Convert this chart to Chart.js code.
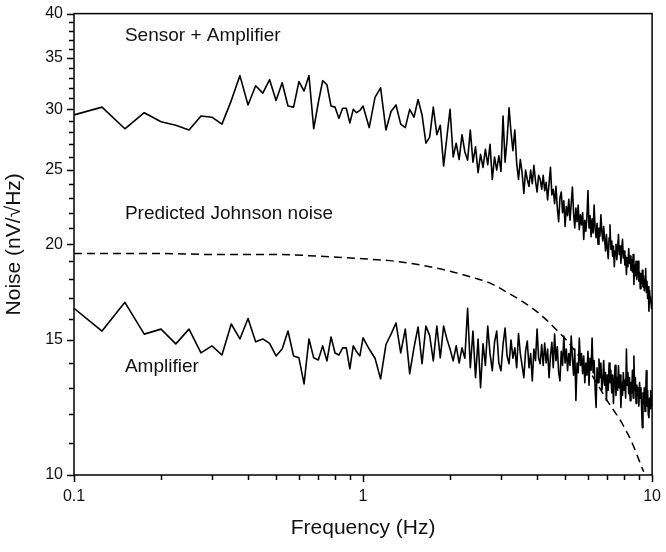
<!DOCTYPE html>
<html>
<head>
<meta charset="utf-8">
<script src="https://cdn.jsdelivr.net/npm/chart.js@4.4.0/dist/chart.umd.min.js"></script>
<style>
  body { margin: 0; background: #fff; }
  #wrap { width: 666px; height: 552px; }
</style>
</head>
<body>
<div id="wrap"><canvas id="noiseChart" width="666" height="552"></canvas></div>
<script>
// frequency bins (Hz), shared by both measured spectra
const freq = [
  0.1,0.125,0.15,0.175,0.2,0.225,0.25,0.275,0.3,0.325,
  0.35,0.375,0.4,0.425,0.45,0.475,0.5,0.525,0.55,0.575,
  0.6,0.625,0.65,0.675,0.7,0.725,0.75,0.775,0.8,0.825,
  0.85,0.875,0.9,0.925,0.95,0.975,1.0,
  1.05,1.1,1.15,1.2,1.25,1.3,1.35,1.4,1.45,1.5,
  1.55,1.6,1.65,1.7,1.75,1.8,1.85,1.9,1.95,2.0,
  2.05,2.1,2.15,2.2,2.25,2.3,2.35,2.4,2.45,2.5,
  2.55,2.6,2.65,2.7,2.75,2.8,2.85,2.9,2.95,3.0,
  3.05,3.1,3.15,3.2,3.25,3.3,3.35,3.4,3.45,3.5,
  3.55,3.6,3.65,3.7,3.75,3.8,3.85,3.9,3.95,4.0,
  4.05,4.1,4.15,4.2,4.25,4.3,4.35,4.4,4.45,4.5,
  4.55,4.6,4.65,4.7,4.75,4.8,4.85,4.9,4.95,5.0,
  5.05,5.1,5.15,5.2,5.25,5.3,5.35,5.4,5.45,5.5,
  5.55,5.6,5.65,5.7,5.75,5.8,5.85,5.9,5.95,6.0,
  6.05,6.1,6.15,6.2,6.25,6.3,6.35,6.4,6.45,6.5,
  6.55,6.6,6.65,6.7,6.75,6.8,6.85,6.9,6.95,7.0,
  7.05,7.1,7.15,7.2,7.25,7.3,7.35,7.4,7.45,7.5,
  7.55,7.6,7.65,7.7,7.75,7.8,7.85,7.9,7.95,8.0,
  8.05,8.1,8.15,8.2,8.25,8.3,8.35,8.4,8.45,8.5,
  8.55,8.6,8.65,8.7,8.75,8.8,8.85,8.9,8.95,9.0,
  9.05,9.1,9.15,9.2,9.25,9.3,9.35,9.4,9.45,9.5,
  9.55,9.6,9.65,9.7,9.75,9.8,9.85,9.9,9.95,10.0
];

// nV/sqrt(Hz)
const sensorNoise = [
  29.5,30.2,28.3,29.7,28.9,28.6,28.2,29.4,29.3,28.7,
  30.8,33.2,30.4,32.2,31.5,32.8,30.8,32.5,30.3,30.2,
  32.6,31.7,33.2,28.3,30.6,32.7,32.3,30.3,30.2,29.2,
  30.1,30.1,28.8,30.0,29.7,29.9,30.3,
  28.4,31.1,32.0,28.2,29.8,30.4,28.7,28.4,30.0,29.3,
  30.9,29.5,27.1,27.6,30.2,27.8,28.6,25.3,27.6,30.0,
  26.0,27.1,25.8,27.8,26.4,25.75,28.2,25.6,26.8,24.8,
  26.2,25.2,26.6,25.4,27.0,24.3,26.0,25.0,26.1,24.9,
  29.4,25.6,27.4,30.15,28.0,26.5,28.2,25.5,24.3,25.8,
  24.8,23.3,25.0,24.3,23.8,25.0,24.0,25.35,24.2,23.4,
  24.6,24.3,23.6,24.6,23.5,24.1,22.85,24.0,25.2,23.2,
  23.6,22.6,23.8,22.3,21.4,23.0,23.4,22.0,22.8,21.1,
  22.4,21.8,22.9,21.5,22.6,23.75,22.0,21.0,22.3,21.4,
  22.5,20.9,21.85,21.2,22.0,20.3,21.5,20.8,21.7,23.5,
  21.0,21.8,20.46,21.6,20.7,22.5,21.0,20.4,21.3,20.0,
  21.0,20.5,21.85,20.8,20.2,21.1,20.3,19.6,20.6,19.8,
  19.15,20.4,21.2,19.7,20.2,19.3,19.9,18.7,19.6,20.0,
  19.1,19.8,20.6,19.4,19.9,18.9,19.7,20.3,19.2,19.6,
  18.8,19.3,18.27,19.2,18.7,19.74,18.9,19.3,18.5,19.1,
  18.4,19.4,17.73,18.8,18.2,19.0,18.0,18.6,19.0,17.9,
  18.4,17.5,18.3,17.8,18.5,17.6,18.2,17.4,18.0,18.6,
  17.3,17.9,17.0,17.6,16.36,17.4,16.8,17.05,16.5,16.9
];

const ampNoise = [
  16.5,15.41,16.8,15.27,15.5,14.83,15.5,14.43,14.74,14.34,
  15.74,15.05,16.0,14.92,15.05,14.85,14.3,14.6,15.41,14.3,
  14.22,13.15,15.05,14.22,14.13,14.74,14.09,15.14,14.43,14.34,
  14.65,14.65,13.76,14.74,14.48,14.3,15.1,
  14.6,14.2,13.35,14.8,15.27,15.79,14.43,15.5,13.56,14.65,
  15.6,13.97,15.64,15.2,14.09,15.64,14.22,15.64,15.05,14.6,
  14.09,14.74,14.0,14.65,14.2,16.5,13.8,15.41,13.4,15.05,
  13.0,14.83,13.9,15.64,14.4,13.68,14.9,15.41,14.0,13.68,
  14.8,15.55,14.3,13.97,15.0,14.2,14.65,13.8,15.3,14.4,
  13.9,13.4,14.5,14.96,13.8,14.4,13.27,14.6,14.1,15.5,
  14.2,13.97,14.8,13.9,14.87,14.0,14.6,13.4,14.3,14.9,
  13.8,15.27,14.1,14.7,13.6,13.27,14.5,13.9,15.18,14.0,
  14.6,13.68,14.4,13.9,15.18,14.2,13.5,14.6,12.51,14.0,
  13.6,15.09,13.9,14.4,13.56,14.3,13.2,14.0,13.5,14.5,
  13.1,14.2,13.7,15.09,13.6,14.1,13.0,12.25,13.8,13.2,
  14.17,13.4,14.0,12.9,13.27,14.1,13.1,13.6,12.51,13.5,
  12.9,14.0,13.2,13.7,12.8,13.5,12.4,13.3,13.9,12.7,
  13.4,12.9,13.88,13.0,13.5,12.25,13.2,12.7,13.6,12.9,
  13.3,12.6,14.6,13.1,13.6,12.77,13.4,12.5,13.2,12.8,
  13.7,12.6,14.3,12.9,13.4,12.4,13.1,12.7,13.0,12.3,
  13.2,12.6,13.0,12.2,11.53,12.8,12.4,13.0,12.1,12.7,
  13.68,12.3,12.9,12.0,11.88,12.6,12.2,12.89,12.3,12.6
];

const johnsonFreq = [0.1,0.2,0.3,0.5,0.7,1.0,1.3,1.7,2.0,2.4,2.75,3.2,3.6,3.9,
  4.3,4.6,5.05,5.5,6.0,6.5,6.95,7.3,7.7,8.1,8.45,8.8,9.15,9.35];
const johnsonNoise = [19.45,19.45,19.4,19.4,19.3,19.15,19.0,18.7,18.45,18.1,17.8,17.25,16.8,16.45,
  15.95,15.55,15.0,14.4,13.75,13.1,12.55,12.2,11.85,11.45,11.1,10.7,10.3,10.1];

const xTicks = [0.1,0.2,0.3,0.4,0.5,0.6,0.7,0.8,0.9,1,2,3,4,5,6,7,8,9,10];
const xLabels = [0.1, 1, 10];
const yTicks = [10,11,12,13,14,15,16,17,18,19,20,21,22,23,24,25,26,27,28,29,30,31,32,33,34,35,36,37,38,39,40];
const yLabels = [10, 15, 20, 25, 30, 35, 40];

const notes = [
  { text: 'Sensor + Amplifier', x: 0.15, y: 36.8 },
  { text: 'Predicted Johnson noise', x: 0.15, y: 21.6 },
  { text: 'Amplifier', x: 0.15, y: 13.64 }
];

const FONT = '"Liberation Sans", Arial, sans-serif';
Chart.defaults.font.family = FONT;
Chart.defaults.color = '#111';

const toPoints = (xs, ys) => xs.map((f, i) => ({ x: f, y: ys[i] }));

// frame, tick marks and curve labels
const decorations = {
    id: 'decorations',
    afterDraw(chart) {
        const { ctx, chartArea: a, scales: { x, y } } = chart;
        ctx.save();
        ctx.strokeStyle = '#000';
        ctx.lineWidth = 1.5;
        ctx.strokeRect(a.left, a.top, a.right - a.left, a.bottom - a.top);
        ctx.beginPath();
        xTicks.forEach(v => {
            const px = Math.round(x.getPixelForValue(v)) + 0.5;
            const len = xLabels.includes(v) ? 7 : 5;
            ctx.moveTo(px, a.bottom);
            ctx.lineTo(px, a.bottom + len);
        });
        yTicks.forEach(v => {
            const py = Math.round(y.getPixelForValue(v)) + 0.5;
            const len = yLabels.includes(v) ? 7 : 5;
            ctx.moveTo(a.left, py);
            ctx.lineTo(a.left - len, py);
        });
        ctx.stroke();
        ctx.fillStyle = '#111';
        ctx.font = '19px ' + FONT;
        ctx.textBaseline = 'alphabetic';
        notes.forEach(n => ctx.fillText(n.text, x.getPixelForValue(n.x), y.getPixelForValue(n.y)));
        ctx.restore();
    }
};

const lineStyle = { borderColor: '#000', borderWidth: 1.6, pointRadius: 0, showLine: true, borderJoinStyle: 'round' };

new Chart(document.getElementById('noiseChart').getContext('2d'), {
    type: 'scatter',
    data: {
        datasets: [
            { label: 'Sensor + Amplifier', data: toPoints(freq, sensorNoise), ...lineStyle },
            { label: 'Amplifier', data: toPoints(freq, ampNoise), ...lineStyle },
            { label: 'Predicted Johnson noise', data: toPoints(johnsonFreq, johnsonNoise), ...lineStyle,
              borderWidth: 1.5, borderDash: [8, 5], cubicInterpolationMode: 'monotone' }
        ]
    },
    options: {
        responsive: false,
        animation: false,
        layout: { padding: { top: 10, right: 10, left: 0, bottom: 0 } },
        plugins: { legend: { display: false }, tooltip: { enabled: false } },
        scales: {
            x: {
                type: 'logarithmic', min: 0.1, max: 10,
                afterBuildTicks: s => { s.ticks = xTicks.map(v => ({ value: v })); },
                afterFit: s => { s.height = 77; },
                border: { display: false },
                grid: { drawOnChartArea: false, tickLength: 7, tickColor: 'rgba(0,0,0,0)' },
                ticks: {
                    autoSkip: false, maxRotation: 0, padding: 5, color: '#111', font: { size: 16 },
                    callback: v => xLabels.includes(v) ? String(v) : ''
                },
                title: { display: true, text: 'Frequency (Hz)', font: { size: 21 }, color: '#111', padding: { top: 0, bottom: 11 } }
            },
            y: {
                type: 'logarithmic', min: 10, max: 40,
                afterBuildTicks: s => { s.ticks = yTicks.map(v => ({ value: v })); },
                afterFit: s => { s.width = 74; },
                border: { display: false },
                grid: { drawOnChartArea: false, tickLength: 7, tickColor: 'rgba(0,0,0,0)' },
                ticks: {
                    autoSkip: false, padding: 4, color: '#111', font: { size: 16 },
                    callback: v => yLabels.includes(v) ? String(v) : ''
                },
                title: { display: true, text: 'Noise (nV/√Hz)', font: { size: 21 }, color: '#111', padding: { top: 2, bottom: 0 } }
            }
        }
    },
    plugins: [decorations]
});
</script>
</body>
</html>
